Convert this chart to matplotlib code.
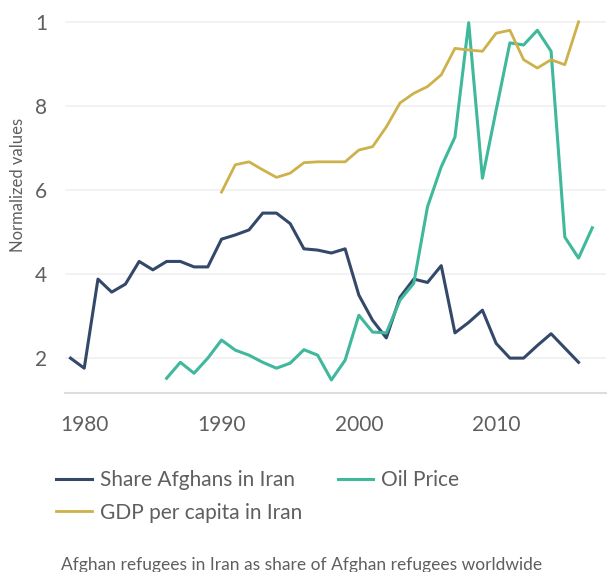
import matplotlib
matplotlib.use("Agg")
import matplotlib.pyplot as plt
from matplotlib.ticker import FixedLocator, FixedFormatter

plt.rcParams['font.family'] = ['Lato', 'DejaVu Sans']

years_share = list(range(1979, 2017))
share = [0.20, 0.176, 0.388, 0.357, 0.376, 0.43, 0.41, 0.43, 0.43, 0.417, 0.417,
         0.483, 0.493, 0.505, 0.545, 0.545, 0.52, 0.46, 0.457, 0.45, 0.46,
         0.35, 0.29, 0.248, 0.345, 0.388, 0.38, 0.42, 0.26, 0.285, 0.314,
         0.235, 0.20, 0.20, 0.23, 0.258, 0.224, 0.19]

years_oil = list(range(1986, 2018))
oil = [0.152, 0.19, 0.164, 0.20, 0.243, 0.219, 0.207, 0.19, 0.176, 0.188,
       0.22, 0.207, 0.148, 0.195, 0.302, 0.262, 0.26, 0.338, 0.378, 0.56,
       0.655, 0.726, 0.998, 0.628, 0.79, 0.95, 0.945, 0.98, 0.93, 0.488,
       0.438, 0.51]

years_gdp = list(range(1990, 2017))
gdp = [0.595, 0.66, 0.667, 0.648, 0.63, 0.64, 0.665, 0.667, 0.667, 0.667,
       0.695, 0.703, 0.75, 0.807, 0.83, 0.846, 0.874, 0.937, 0.933, 0.93,
       0.973, 0.98, 0.91, 0.89, 0.91, 0.898, 1.0]

ytick_vals = [0.2, 0.4, 0.6, 0.8, 1.0]
ytick_labels = ["2", "4", "6", "8", "1"]
xtick_vals = [1980, 1990, 2000, 2010]
xtick_labels = ["1980", "1990", "2000", "2010"]

series_names = ["Share Afghans in Iran", "Oil Price", "GDP per capita in Iran"]
c_share = "#34486a"
c_oil = "#3fb89c"
c_gdp = "#cdb14a"
text_c = "#5f5f5f"

W, H = 608, 572
fig = plt.figure(figsize=(W/100, H/100), dpi=100)
ax = fig.add_axes([65/W, 1 - 393/H, (606-65)/W, 393/H])

l1, = ax.plot(years_share, share, color=c_share, lw=2.2, label=series_names[0], solid_joinstyle='round')
l2, = ax.plot(years_oil, oil, color=c_oil, lw=2.2, label=series_names[1], solid_joinstyle='round')
l3, = ax.plot(years_gdp, gdp, color=c_gdp, lw=2.0, label=series_names[2], solid_joinstyle='round')

ax.set_xlim(1978.6, 2018.0)
ax.set_ylim(0.117, 1.052)

ax.yaxis.set_major_locator(FixedLocator(ytick_vals))
ax.yaxis.set_major_formatter(FixedFormatter(ytick_labels))
ax.xaxis.set_major_locator(FixedLocator(xtick_vals))
ax.xaxis.set_major_formatter(FixedFormatter(xtick_labels))

ax.grid(axis='y', color='#f0f0f0', lw=1.2)
ax.set_axisbelow(True)
for s in ['top', 'right', 'left']:
    ax.spines[s].set_visible(False)
ax.spines['bottom'].set_color('#dddddd')
ax.spines['bottom'].set_linewidth(1.5)

ax.tick_params(axis='y', length=0, pad=13, labelsize=15, labelcolor=text_c)
ax.tick_params(axis='x', length=0, pad=16, labelsize=15, labelcolor=text_c)

fig.text(18/W, 1 - 185/H, "Normalized values", rotation=90, ha='center', va='center',
         fontsize=12, color=text_c)

leg = fig.legend(handles=[l1, l3, l2], loc='upper left', bbox_to_anchor=(52/W, 1 - 466/H),
                 ncol=2, frameon=False, fontsize=15, labelcolor=text_c,
                 handlelength=1.7, columnspacing=1.7, handletextpad=0.4, labelspacing=0.6,
                 borderaxespad=0, borderpad=0.2)

fig.text(302/W, 1 - 565/H, "Afghan refugees in Iran as share of Afghan refugees worldwide",
         ha='center', va='center', fontsize=12.5, color=text_c)

fig.savefig("out.png", dpi=100)
